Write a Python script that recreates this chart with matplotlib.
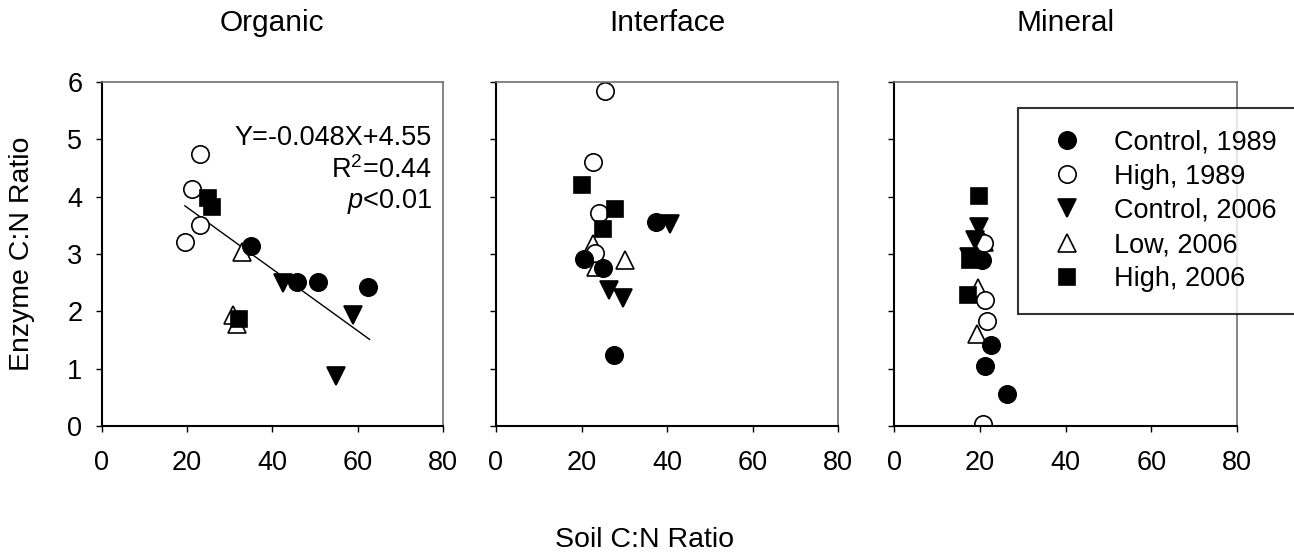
import matplotlib
matplotlib.use('Agg')
import matplotlib.pyplot as plt

plt.rcParams['font.family'] = ['Liberation Sans', 'DejaVu Sans']
plt.rcParams['mathtext.fontset'] = 'custom'
plt.rcParams['mathtext.rm'] = 'Liberation Sans'
plt.rcParams['mathtext.it'] = 'Liberation Sans:italic'

# Soil C:N (x) and Enzyme C:N (y), per horizon and treatment
panels = ['Organic', 'Interface', 'Mineral']
series = ['Control, 1989', 'High, 1989', 'Control, 2006', 'Low, 2006', 'High, 2006']

organic_x = {
    'Control, 1989': [35.1, 45.7, 50.7, 62.4],
    'High, 1989': [23.0, 21.1, 23.0, 19.5],
    'Control, 2006': [42.4, 58.9, 55.0],
    'Low, 2006': [32.8, 30.8, 31.6],
    'High, 2006': [25.0, 25.8, 32.2],
}
organic_y = {
    'Control, 1989': [3.14, 2.52, 2.51, 2.43],
    'High, 1989': [4.74, 4.14, 3.51, 3.21],
    'Control, 2006': [2.50, 1.93, 0.88],
    'Low, 2006': [3.04, 1.93, 1.78],
    'High, 2006': [3.97, 3.82, 1.87],
}
interface_x = {
    'Control, 1989': [20.6, 24.9, 37.4, 27.6],
    'High, 1989': [25.5, 22.7, 24.1, 23.1],
    'Control, 2006': [40.7, 26.5, 29.6],
    'Low, 2006': [22.6, 23.4, 30.1],
    'High, 2006': [20.2, 27.8, 24.9],
}
interface_y = {
    'Control, 1989': [2.91, 2.76, 3.56, 1.24],
    'High, 1989': [5.84, 4.60, 3.71, 3.02],
    'Control, 2006': [3.52, 2.38, 2.24],
    'Low, 2006': [3.18, 2.77, 2.90],
    'High, 2006': [4.20, 3.78, 3.43],
}
mineral_x = {
    'Control, 1989': [20.4, 22.5, 21.2, 26.4],
    'High, 1989': [20.9, 21.2, 21.7, 20.7],
    'Control, 2006': [19.9, 18.9, 17.5],
    'Low, 2006': [20.9, 19.6, 19.4],
    'High, 2006': [19.9, 17.6, 17.3],
}
mineral_y = {
    'Control, 1989': [2.90, 1.41, 1.04, 0.55],
    'High, 1989': [3.19, 2.20, 1.83, 0.03],
    'Control, 2006': [3.47, 3.24, 2.95],
    'Low, 2006': [3.21, 2.41, 1.61],
    'High, 2006': [4.01, 2.90, 2.28],
}
panel_x = [organic_x, interface_x, mineral_x]
panel_y = [organic_y, interface_y, mineral_y]

# fitted line in the organic panel (as drawn)
fit_x = [19.5, 62.8]
fit_y = [3.84, 1.51]

styles = {
    'Control, 1989': dict(marker='o', mfc='black', ms=12.5),
    'High, 1989': dict(marker='o', mfc='white', ms=12.5),
    'Control, 2006': dict(marker='v', mfc='black', ms=12.5),
    'Low, 2006': dict(marker='^', mfc='white', ms=12.5),
    'High, 2006': dict(marker='s', mfc='black', ms=11),
}
draw_order = ['Low, 2006', 'High, 1989', 'High, 2006', 'Control, 2006', 'Control, 1989']

fig = plt.figure(figsize=(12.94, 5.57), dpi=100)
W, H = 1294, 557
boxes = [(101.7, 443.0), (496.0, 838.3), (894.0, 1237.3)]
top_px, bot_px = 82.0, 426.0

handles = {}
for i, (name, (x0, x1)) in enumerate(zip(panels, boxes)):
    ax = fig.add_axes([x0 / W, (H - bot_px) / H, (x1 - x0) / W, (bot_px - top_px) / H])
    for s in draw_order:
        h, = ax.plot(panel_x[i][s], panel_y[i][s], ls='none', mec='black', mew=1.2,
                     label=s, **styles[s])
        handles[s] = h
    ax.set_xlim(0, 80)
    ax.set_ylim(0, 6)
    ax.set_xticks([0, 20, 40, 60, 80])
    ax.set_yticks(range(7))
    if i > 0:
        ax.set_yticklabels([])
    ax.tick_params(direction='out', length=4, width=1, labelsize=19.5,
                   top=False, right=False)
    ax.tick_params(axis='x', pad=13)
    ax.tick_params(axis='y', pad=10)
    for sp in ['left', 'bottom']:
        ax.spines[sp].set_color('black')
        ax.spines[sp].set_linewidth(1.5)
    for sp in ['top', 'right']:
        ax.spines[sp].set_color('#707070')
        ax.spines[sp].set_linewidth(1.2)
    ax.set_title(name, fontsize=21.5, pad=37)

    if i == 0:
        ax.plot(fit_x, fit_y, color='black', lw=1.0, zorder=1)
        ax.text(0.967, 0.817, 'Y=-0.048X+4.55', transform=ax.transAxes,
                ha='right', va='baseline', fontsize=19.5)
        ax.text(0.967, 0.721, 'R$^2$=0.44', transform=ax.transAxes,
                ha='right', va='baseline', fontsize=19.5)
        ax.text(0.967, 0.634, '$p$<0.01', transform=ax.transAxes,
                ha='right', va='baseline', fontsize=19.5)

fig.text(22 / W, (H - 254) / H, 'Enzyme C:N Ratio', rotation=90,
         ha='center', va='center', fontsize=20.5)
fig.text(645 / W, (H - 540) / H, 'Soil C:N Ratio', ha='center', va='center',
         fontsize=20.5)

leg = fig.legend([handles[s] for s in series], series,
                 loc='upper left', mode='expand',
                 bbox_to_anchor=(1018 / W, (H - 108) / H, 300 / W, 0),
                 fontsize=19.5, frameon=True, fancybox=False, borderpad=0.8,
                 labelspacing=0.3, handlelength=2.0, handletextpad=0.75,
                 borderaxespad=0)
leg.get_frame().set_edgecolor('black')
leg.get_frame().set_linewidth(1.5)

fig.savefig('out.png', dpi=100)
